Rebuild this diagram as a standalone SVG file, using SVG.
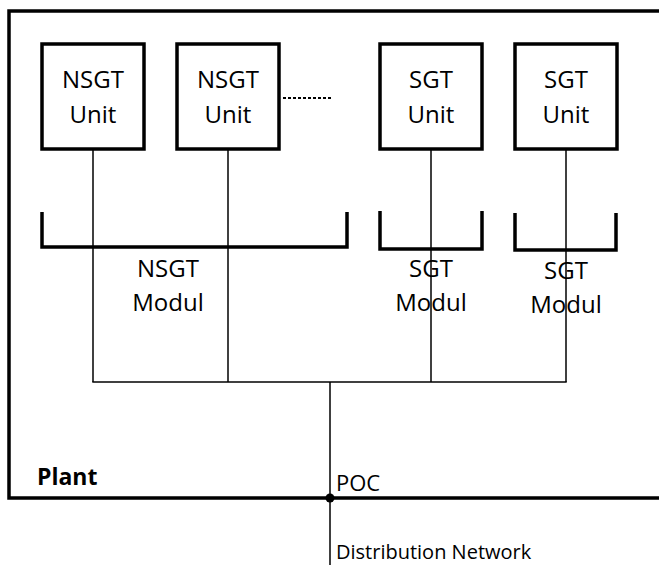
<svg xmlns="http://www.w3.org/2000/svg" width="659" height="565" viewBox="0 0 659 565">
<style>
.box{fill:#fff;stroke:#000;stroke-width:3.5}
.thick{fill:none;stroke:#000;stroke-width:3.5}
.thin{fill:none;stroke:#000;stroke-width:1.5}
.t{font-family:"Open Sans",sans-serif;font-size:24px;fill:#000;text-anchor:middle}
.s{font-family:"Open Sans",sans-serif;fill:#000}
</style>
<g id="plant">
<path class="thick" d="M659,11 H9 V498 H659"/>
<text class="s" x="37" y="485" font-size="23" font-weight="bold">Plant</text>
</g>
<g id="connectors">
<line class="thin" x1="93" y1="149" x2="93" y2="382"/>
<line class="thin" x1="228" y1="149" x2="228" y2="382"/>
<line class="thin" x1="431" y1="149" x2="431" y2="382"/>
<line class="thin" x1="566" y1="149" x2="566" y2="382"/>
<line class="thin" x1="92.3" y1="382" x2="566.7" y2="382"/>
<line class="thin" x1="330" y1="382" x2="330" y2="565"/>
<line x1="283" y1="98" x2="333" y2="98" stroke="#000" stroke-width="2" stroke-dasharray="3,2"/>
</g>
<g id="nsgt-modul">
<path class="thick" d="M42,212 V247 H347 V212"/>
<text class="t" x="168" y="277">NSGT</text>
<text class="t" x="168" y="311">Modul</text>
</g>
<g id="sgt-modul-1">
<path class="thick" d="M380,211 V249 H482 V211"/>
<text class="t" x="431" y="277">SGT</text>
<text class="t" x="431" y="311">Modul</text>
</g>
<g id="sgt-modul-2">
<path class="thick" d="M515,213 V250 H616 V213"/>
<text class="t" x="566" y="279">SGT</text>
<text class="t" x="566" y="313">Modul</text>
</g>
<g id="nsgt-unit-1">
<rect class="box" x="42" y="44" width="102" height="105"/>
<text class="t" x="93" y="88">NSGT</text>
<text class="t" x="93" y="123">Unit</text>
</g>
<g id="nsgt-unit-2">
<rect class="box" x="177" y="44" width="102" height="105"/>
<text class="t" x="228" y="88">NSGT</text>
<text class="t" x="228" y="123">Unit</text>
</g>
<g id="sgt-unit-1">
<rect class="box" x="380" y="44" width="102" height="105"/>
<text class="t" x="431" y="88">SGT</text>
<text class="t" x="431" y="123">Unit</text>
</g>
<g id="sgt-unit-2">
<rect class="box" x="515" y="44" width="102" height="105"/>
<text class="t" x="566" y="88">SGT</text>
<text class="t" x="566" y="123">Unit</text>
</g>
<g id="poc">
<circle cx="330" cy="498" r="4.5" fill="#000"/>
<text class="s" x="336" y="491" font-size="22">POC</text>
</g>
<g id="distribution-network">
<text class="s" x="336" y="559" font-size="20">Distribution Network</text>
</g>
</svg>
